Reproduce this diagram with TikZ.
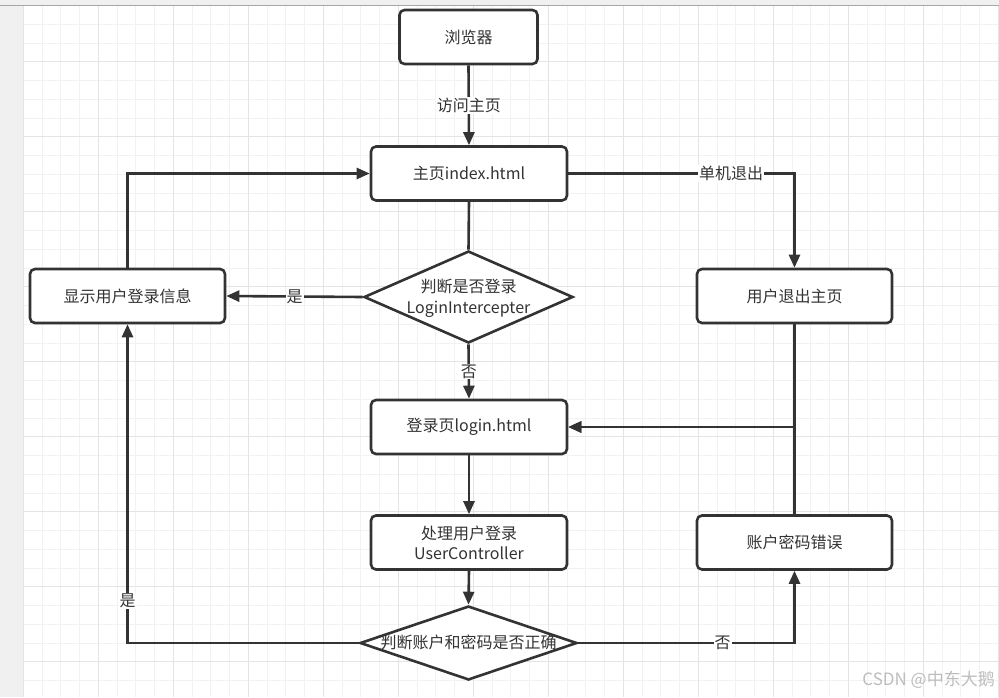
\documentclass[tikz,border=0pt]{standalone}
\usepackage{fontspec}
\setmainfont{Noto Sans CJK SC}
\usetikzlibrary{arrows.meta,shapes.geometric}
\definecolor{ink}{HTML}{333333}
\definecolor{minorgrid}{HTML}{F2F2F2}
\definecolor{majorgrid}{HTML}{E4E4E4}
\definecolor{strip}{HTML}{F0F0F0}
\definecolor{wm}{HTML}{BDBDBD}
\tikzset{
  box/.style={draw=ink, line width=2.6pt, rounded corners=5pt, fill=white,
    minimum width=196pt, minimum height=54pt, inner sep=0pt, align=center,
    text=ink, font=\fontsize{16}{20}\selectfont},
  dia/.style={draw=ink, line width=2.6pt, diamond, fill=white, inner sep=0pt},
  dtext/.style={text=ink, align=center, font=\fontsize{16}{21}\selectfont, inner sep=0pt},
  conn/.style={draw=ink, line width=2.6pt},
  arr/.style={conn, -{Triangle[length=13pt,width=11pt]}},
  elabel/.style={fill=white, text=ink, inner sep=1pt, font=\fontsize{16}{20}\selectfont}
}
\begin{document}
\begin{tikzpicture}[x=1pt,y=-1pt]
\useasboundingbox (0,0) rectangle (999,697);
\fill[white] (0,0) rectangle (999,697);
% grid
\foreach \i in {0,...,52} \draw[minorgrid, line width=1pt] ({23.3+18.75*\i},5.5) -- ({23.3+18.75*\i},697);
\foreach \j in {1,...,37} \draw[minorgrid, line width=1pt] (23.3,{-13.25+18.75*\j}) -- (999,{-13.25+18.75*\j});
\foreach \i in {0,...,13} \draw[majorgrid, line width=1pt] ({23.3+75*\i},5.5) -- ({23.3+75*\i},697);
\foreach \j in {1,...,10} \draw[majorgrid, line width=1pt] (23.3,{-13.25+75*\j}) -- (999,{-13.25+75*\j});
\fill[strip] (0,0) rectangle (22.8,697);
\fill[strip] (0,0) rectangle (999,5);
\draw[gray!70, line width=1pt] (0,5.5) -- (999,5.5);

% nodes
\node[box, minimum width=138pt] (br) at (468.5,37) {浏览器};
\node[box] (home) at (469,173.5) {主页index.html};
\node[box, minimum width=195pt] (show) at (127.5,296) {显示用户登录信息};
\node[box, minimum width=195pt] (quit) at (794.5,296) {用户退出主页};
\node[box] (login) at (469,427) {登录页login.html};
\node[box] (proc) at (469,542.5) {处理用户登录\\UserController};
\node[box, minimum width=195pt] (err) at (794.5,542.5) {账户密码错误};
\node[dia, minimum width=209pt, minimum height=92pt] (d1) at (468.5,297) {};
\node[dtext] (d1t) at (468.5,298) {判断是否登录\\LoginIntercepter};
\node[dia, minimum width=217pt, minimum height=74pt] (d2) at (468.5,643) {};
\node[dtext] (d2t) at (468.5,642) {判断账户和密码是否正确};

% connectors
\draw[arr] (br.south) -- node[elabel] {访问主页} (home.north);
\draw[arr] (home.east) -| node[elabel, pos=0.36] {单机退出} (quit.north);
\draw[conn] (home.south) -- (d1.north);
\draw[arr] (d1.west) -- node[elabel] {是} (show.east);
\draw[arr] (d1.south) -- node[elabel] {否} (login.north);
\draw[arr] (show.north) |- (home.west);
\draw[arr] (quit.south) |- (login.east);
\draw[arr] (err.north) |- (login.east);
\draw[arr] (login.south) -- (proc.north);
\draw[arr] (proc.south) -- (d2.north);
\draw[arr] (d2.west) -| node[elabel, pos=0.566] {是} (show.south);
\draw[arr] (d2.east) -| node[elabel, pos=0.334] {否} (err.south);

% watermark
\node[text=wm, font=\fontsize{17}{20}\selectfont, anchor=east, inner sep=0pt] (wmk) at (995,680) {CSDN @中东大鹅};
\end{tikzpicture}
\end{document}
